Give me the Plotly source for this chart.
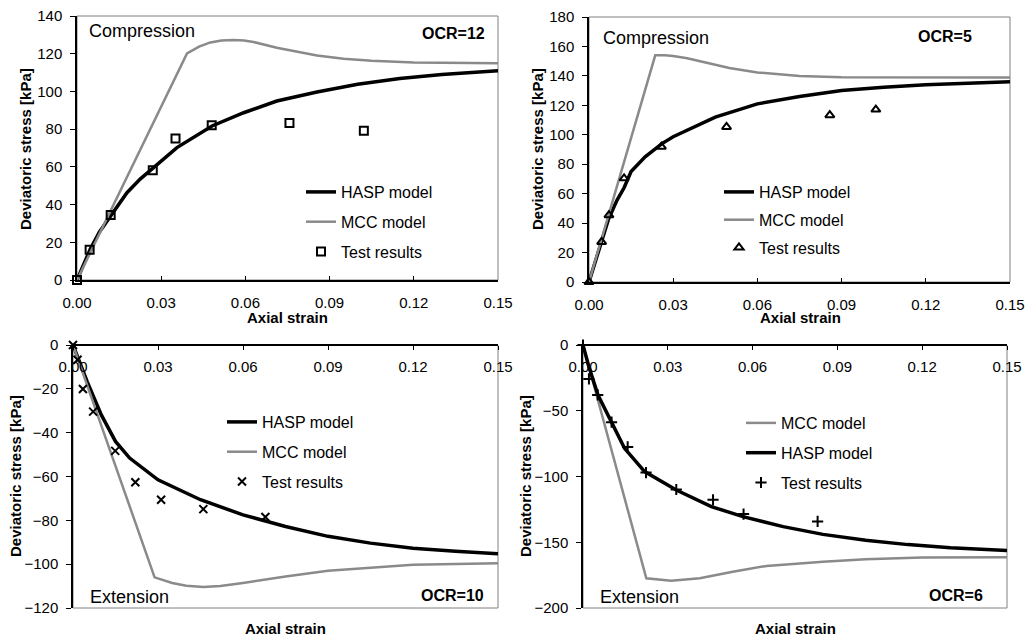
import plotly.graph_objects as go

W, H = 1025, 637

# ---------------- data ----------------
# Panel 1: Compression, OCR=12
p1_hasp_x = [0, 0.002, 0.0047, 0.008, 0.0119, 0.0178, 0.0225, 0.0273, 0.0356, 0.0481, 0.0594, 0.0712, 0.0855, 0.1, 0.115, 0.13, 0.15]
p1_hasp_y = [0, 7, 16.3, 25.5, 34, 46.3, 53.5, 59.5, 70.2, 81.7, 88.7, 94.9, 99.7, 103.8, 106.8, 109.0, 111]
p1_mcc_x = [0, 0.0392, 0.0435, 0.0475, 0.0515, 0.0558, 0.0595, 0.0629, 0.0712, 0.0785, 0.0855, 0.095, 0.105, 0.12, 0.135, 0.15]
p1_mcc_y = [0, 120.2, 123.8, 126, 127, 127.3, 127, 126.2, 123.2, 121, 119.1, 117.3, 116.3, 115.4, 115, 114.9]
p1_test_x = [0, 0.0045, 0.012, 0.027, 0.0351, 0.048, 0.0757, 0.1022]
p1_test_y = [0, 16, 34.5, 58.2, 75, 82.1, 83.2, 79.1]

# Panel 2: Compression, OCR=5
p2_hasp_x = [0, 0.0045, 0.007, 0.01, 0.0125, 0.015, 0.02, 0.026, 0.03, 0.045, 0.06, 0.075, 0.09, 0.105, 0.12, 0.15]
p2_hasp_y = [0, 27, 43, 55.6, 64, 75, 85, 94, 98.7, 112, 121, 126, 130, 132.3, 134, 136]
p2_mcc_x = [0, 0.0236, 0.027, 0.03, 0.035, 0.04, 0.045, 0.05, 0.06, 0.075, 0.09, 0.12, 0.15]
p2_mcc_y = [0, 154, 154, 153.5, 152, 149.8, 147.5, 145.3, 142.3, 140, 139, 138.7, 138.9]
p2_test_x = [0, 0.0045, 0.0071, 0.0125, 0.0258, 0.049, 0.0858, 0.1022]
p2_test_y = [0, 27.2, 45.4, 70.4, 91.9, 105.3, 113.3, 117.1]

# Panel 3: Extension, OCR=10
p3_hasp_x = [0, 0.002, 0.005, 0.01, 0.015, 0.02, 0.03, 0.045, 0.06, 0.075, 0.09, 0.105, 0.12, 0.135, 0.15]
p3_hasp_y = [0, -7, -16.7, -31.9, -44, -51.6, -61.5, -70.6, -77.5, -82.8, -87.3, -90.4, -92.7, -94.1, -95.2]
p3_mcc_x = [0, 0.0288, 0.035, 0.04, 0.046, 0.052, 0.06, 0.075, 0.09, 0.105, 0.12, 0.15]
p3_mcc_y = [0, -106, -108.6, -109.8, -110.4, -110, -108.6, -105.6, -103, -101.5, -100.3, -99.6]
p3_test_x = [0, 0.0016, 0.0035, 0.0071, 0.0149, 0.022, 0.0311, 0.046, 0.0679]
p3_test_y = [0, -6.7, -20.1, -30.4, -48.3, -62.6, -70.6, -74.9, -78.5]

# Panel 4: Extension, OCR=6
p4_hasp_x = [0, 0.002, 0.0053, 0.01, 0.0147, 0.0218, 0.033, 0.0454, 0.0566, 0.0708, 0.0849, 0.1, 0.115, 0.13, 0.15]
p4_hasp_y = [0, -16, -38, -58.3, -78.6, -96.3, -110.3, -122.9, -130.5, -138.1, -144, -148.4, -151.8, -154.2, -156.2]
p4_mcc_x = [0, 0.0224, 0.0312, 0.0413, 0.053, 0.0649, 0.0849, 0.1, 0.12, 0.15]
p4_mcc_y = [0, -177.4, -179.2, -177.4, -172.4, -168, -164.8, -163, -161.6, -161.5]
p4_test_x = [0, 0.0021, 0.0052, 0.0101, 0.0158, 0.0223, 0.033, 0.046, 0.0568, 0.083]
p4_test_y = [0, -25.8, -38, -58.7, -77.5, -97, -109.9, -117.7, -128.6, -134.2]

x_ticks = [0, 0.03, 0.06, 0.09, 0.12, 0.15]
y_ranges = [[0, 140], [0, 180], [-120, 0], [-200, 0]]
y_dticks = [20, 20, 20, 50]
ocr_labels = ["OCR=12", "OCR=5", "OCR=10", "OCR=6"]
mode_labels = ["Compression", "Compression", "Extension", "Extension"]
legend_names = ["HASP model", "MCC model", "Test results"]

# ---------------- styling ----------------
FONT = "Liberation Sans, Arial, sans-serif"
GRAY = "#8a8a8a"
BLACK = "#000000"

# plot areas in pixels (left, top, right, bottom)
areas = [(77, 16, 498, 280), (589, 17, 1010, 282), (73, 345, 498, 608), (583, 345, 1007, 608)]


def px(x):
    return x / W


def py(y):
    return 1 - y / H


fig = go.Figure()

panels = [
    (p1_hasp_x, p1_hasp_y, p1_mcc_x, p1_mcc_y, p1_test_x, p1_test_y, "square-open"),
    (p2_hasp_x, p2_hasp_y, p2_mcc_x, p2_mcc_y, p2_test_x, p2_test_y, "triangle-up-open"),
    (p3_hasp_x, p3_hasp_y, p3_mcc_x, p3_mcc_y, p3_test_x, p3_test_y, "x-thin-open"),
    (p4_hasp_x, p4_hasp_y, p4_mcc_x, p4_mcc_y, p4_test_x, p4_test_y, "cross-thin-open"),
]

legend_ids = ["legend", "legend2", "legend3", "legend4"]

for i, (hx, hy, mx, my, tx, ty, sym) in enumerate(panels):
    xa = "x" if i == 0 else f"x{i+1}"
    ya = "y" if i == 0 else f"y{i+1}"
    lg = legend_ids[i]
    hasp = go.Scatter(x=hx, y=hy, mode="lines", name=legend_names[0], xaxis=xa, yaxis=ya,
                      line=dict(color=BLACK, width=3.5), legend=lg, legendgroup=f"h{i}",
                      cliponaxis=False)
    mcc = go.Scatter(x=mx, y=my, mode="lines", name=legend_names[1], xaxis=xa, yaxis=ya,
                     line=dict(color=GRAY, width=2.5), legend=lg, legendgroup=f"m{i}",
                     cliponaxis=False)
    test = go.Scatter(x=tx, y=ty, mode="markers", name=legend_names[2], xaxis=xa, yaxis=ya,
                      marker=dict(symbol=sym, size=8, color=BLACK, line=dict(color=BLACK, width=2)),
                      legend=lg, legendgroup=f"t{i}", cliponaxis=False)
    if i == 3:
        fig.add_trace(mcc)
        fig.add_trace(hasp)
    else:
        fig.add_trace(hasp)
        fig.add_trace(mcc)
    fig.add_trace(test)

layout = dict(
    width=W, height=H,
    margin=dict(l=0, r=0, t=0, b=0, autoexpand=False),
    paper_bgcolor="white", plot_bgcolor="white",
    font=dict(family=FONT, size=15, color=BLACK),
    showlegend=True,
)

for i, (l, t, r, b) in enumerate(areas):
    xk = "xaxis" if i == 0 else f"xaxis{i+1}"
    yk = "yaxis" if i == 0 else f"yaxis{i+1}"
    xa = "x" if i == 0 else f"x{i+1}"
    ya = "y" if i == 0 else f"y{i+1}"
    top_axis = i >= 2
    xaxis = dict(
        domain=[px(l), px(r)], range=[0, 0.15],
        tickvals=x_ticks, tickformat=".2f",
        showgrid=False, zeroline=False,
        showline=True, linecolor=BLACK, linewidth=1.5,
        tickcolor=BLACK, tickwidth=1, ticklen=4,
        tickfont=dict(family=FONT, size=15, color=BLACK),
        side="bottom", automargin=False,
    )
    if top_axis:
        # axis line sits on the y = 0 line at the top of the panel,
        # tick labels hang just below it inside the frame
        xaxis.update(anchor="free", position=py(t), ticks="outside", ticklabelstandoff=4)
    else:
        xaxis.update(anchor=ya, ticks="inside", ticklabelstandoff=8)
    yaxis = dict(
        domain=[py(b), py(t)], anchor=xa, range=y_ranges[i], dtick=y_dticks[i],
        showgrid=False, zeroline=False,
        showline=True, linecolor=BLACK, linewidth=1.5,
        ticks="outside", ticklen=5, tickcolor=BLACK, tickwidth=1,
        tickfont=dict(family=FONT, size=15, color=BLACK),
        ticklabelstandoff=5, automargin=False,
    )
    layout[xk] = xaxis
    layout[yk] = yaxis

# legends
legend_pos = [(341, 175, 6), (759, 175, 4), (262, 405, 6), (781, 406, 6)]
for i, (tx0, ty0, gap) in enumerate(legend_pos):
    layout[legend_ids[i]] = dict(
        x=px(tx0 - 40), y=py(ty0), xref="paper", yref="paper",
        xanchor="left", yanchor="top",
        bgcolor="rgba(0,0,0,0)", borderwidth=0,
        font=dict(family=FONT, size=16, color=BLACK),
        traceorder="grouped", tracegroupgap=gap,
    )

fig.update_layout(**layout)

# plot frame (thin gray box) under the axes
for i in range(4):
    xa = "x" if i == 0 else f"x{i+1}"
    ya = "y" if i == 0 else f"y{i+1}"
    fig.add_shape(type="rect", xref=f"{xa} domain", yref=f"{ya} domain",
                  x0=0, x1=1, y0=0, y1=1, line=dict(color="#808080", width=1), layer="below")

annotations = []
# panel labels
mode_pos = [(87, 31), (601, 38), (88, 597), (598, 597)]
ocr_pos = [(487, 33), (974, 36), (486, 595), (985, 595)]
for i in range(4):
    annotations.append(dict(text=mode_labels[i], x=px(mode_pos[i][0]), y=py(mode_pos[i][1]),
                            xref="paper", yref="paper", xanchor="left", yanchor="middle",
                            showarrow=False, font=dict(family=FONT, size=18, color=BLACK)))
    annotations.append(dict(text=f"<b>{ocr_labels[i]}</b>", x=px(ocr_pos[i][0]), y=py(ocr_pos[i][1]),
                            xref="paper", yref="paper", xanchor="right", yanchor="middle",
                            showarrow=False, font=dict(family=FONT, size=16, color=BLACK)))

# axis titles
ytitle_pos = [(25, 149), (537, 149), (15, 476), (525, 476)]
xtitle_pos = [(287, 317), (800, 317), (285, 628), (795, 628)]
for i in range(4):
    annotations.append(dict(text="<b>Deviatoric stress [kPa]</b>", x=px(ytitle_pos[i][0]), y=py(ytitle_pos[i][1]),
                            xref="paper", yref="paper", xanchor="center", yanchor="middle",
                            textangle=-90, showarrow=False, font=dict(family=FONT, size=15, color=BLACK)))
    annotations.append(dict(text="<b>Axial strain</b>", x=px(xtitle_pos[i][0]), y=py(xtitle_pos[i][1]),
                            xref="paper", yref="paper", xanchor="center", yanchor="middle",
                            showarrow=False, font=dict(family=FONT, size=15, color=BLACK)))

fig.update_layout(annotations=annotations)

# remove the default page margin so the 1025x637 figure fills the window exactly
fig.write_html("out.html", config={"displayModeBar": False},
               post_script="document.body.style.margin='0px';")
